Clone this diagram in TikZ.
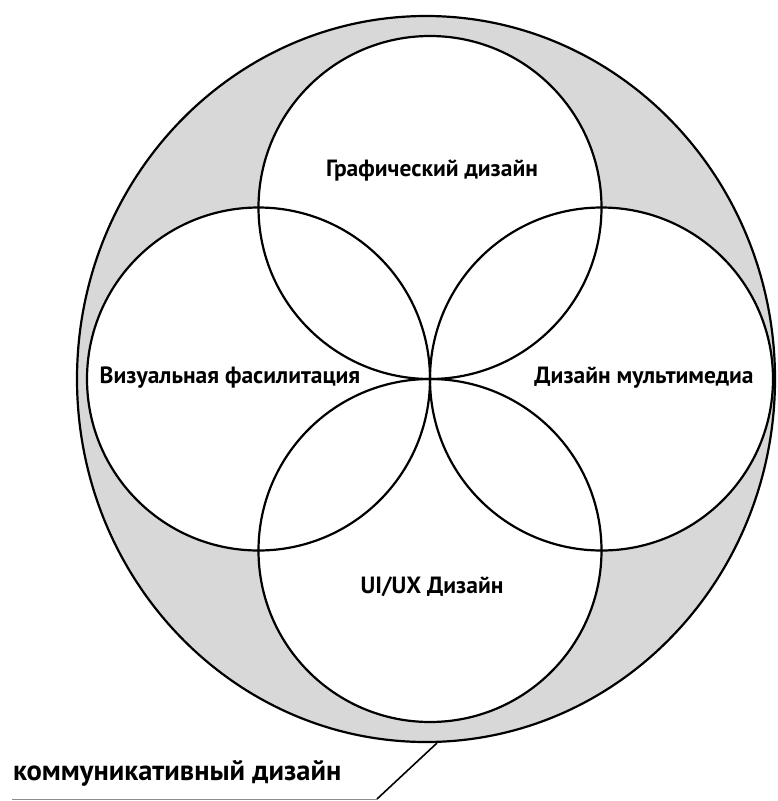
\documentclass[tikz,border=0pt]{standalone}
\usepackage{fontspec}
\setmainfont{PT Sans}
\usepackage{xcolor}
\definecolor{ring}{RGB}{216,216,216}

\tikzset{
  field/.style={font=\bfseries\fontsize{23.5}{26}\selectfont, inner sep=0pt},
  caption/.style={font=\bfseries\fontsize{28.5}{31}\selectfont, inner sep=0pt, anchor=base west}
}

\begin{document}
\begin{tikzpicture}[x=1pt,y=-1pt,line width=2.2pt]
  \useasboundingbox (0,0) rectangle (777,801);

  % Outer ring (communication design).
  \draw[fill=ring] (426,379) ellipse [x radius=349, y radius=363];

  % Four fields, white inside.
  \foreach \cx/\cy in {430/207.5, 258.5/379, 601.5/379, 430/550.5}
    \fill[white] (\cx,\cy) circle (171.5);
  \foreach \cx/\cy in {430/207.5, 258.5/379, 601.5/379, 430/550.5}
    \draw (\cx,\cy) circle (171.5);

  % Field labels.
  \node[field] (graphic) at (432,171) {Графический дизайн};
  \node[field] (visual) at (230,378) {Визуальная фасилитация};
  \node[field] (media) at (644,378) {Дизайн мультимедиа};
  \node[field] (uiux) at (432,587) {UI/UX Дизайн};

  % Caption with leader.
  \node[caption] (comm) at (12,780) {коммуникативный дизайн};
  \coordinate (ul) at (12,799);
  \coordinate (ur) at (377,799);
  \coordinate (touch) at (437,743);
  \draw[black!45,line width=1pt] (ul) -- (ur);
  \draw[line width=1.6pt] (ur) -- (touch);

\end{tikzpicture}
\end{document}
